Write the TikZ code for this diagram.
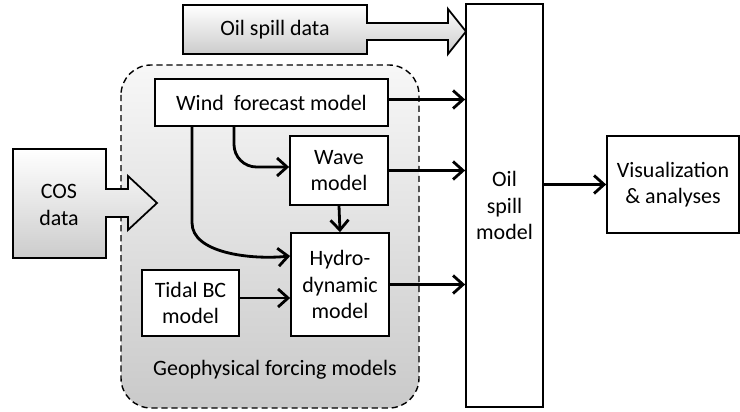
\documentclass[tikz,border=0pt]{standalone}
\usepackage{fontspec}
\setmainfont{Carlito}
\usetikzlibrary{arrows.meta}
\tikzset{
  modelbox/.style={draw, line width=1pt, fill=white, align=center, inner sep=2pt},
  flow/.style={line width=1.6pt, -{Straight Barb[length=2mm,width=3.6mm,line width=1.6pt]}},
  bigarrow/.style={draw, line width=1pt, top color=white, bottom color=gray!40}
}
\begin{document}
\begin{tikzpicture}[x=0.02cm, y=-0.02cm, font=\fontsize{12.5}{15}\selectfont]
  \useasboundingbox (0,0) rectangle (740,412);
  \shade[top color=gray!6, bottom color=gray!42, rounded corners=0.6cm] (121,65) rectangle (419,408);
  \draw[dashed, dash pattern=on 3.5pt off 2.2pt, line width=0.8pt, rounded corners=0.6cm] (121,65) rectangle (419,408);
  \node (forcing) at (275,370) {Geophysical forcing models};

  \shadedraw[bigarrow] (183,5) -- (367,5) -- (367,23) -- (448,23) -- (448,9) -- (466,31.5)
    -- (448,54) -- (448,40) -- (367,40) -- (367,54) -- (183,54) -- cycle;
  \node (oildata) at (275,30) {Oil spill data};
  \shadedraw[bigarrow] (13,149) -- (106,149) -- (106,189) -- (128,189) -- (128,176) -- (157,203)
    -- (128,230) -- (128,217) -- (106,217) -- (106,258) -- (13,258) -- cycle;
  \node[align=center] (cosdata) at (59,205) {COS\\data};

  \node[modelbox, minimum width=1.54cm, minimum height=8.06cm] (spill) at (504.5,205.5) {Oil\\spill\\model};
  \node[modelbox, minimum width=2.64cm, minimum height=1.94cm] (vis) at (673,184.5) {Visualization\\\& analyses};
  \node[modelbox, minimum width=4.66cm, minimum height=0.94cm] (wind) at (271.5,102.5) {Wind\ \ forecast model};
  \node[modelbox, minimum width=1.96cm, minimum height=1.38cm] (wave) at (339,170.5) {Wave\\model};
  \node[modelbox, minimum width=1.96cm, minimum height=2.06cm] (hydro) at (340,284.5) {Hydro-\\dynamic\\model};
  \node[modelbox, minimum width=1.94cm, minimum height=1.32cm] (tidal) at (190.5,303) {Tidal BC\\model};

  \draw[flow] ([yshift=0.06cm]wind.east) -- ([yshift=0.06cm]wind.east -| spill.west);
  \draw[flow] (wave.east) -- (wave.east -| spill.west);
  \draw[flow] (hydro.east) -- (hydro.east -| spill.west);
  \draw[flow] (vis.west -| spill.east) -- (vis.west);
  \draw[flow] (wave.south) -- (hydro.north);
  \draw[flow] ([yshift=0.1cm]tidal.east) -- ([yshift=0.1cm]tidal.east -| hydro.west);
  \draw[flow, rounded corners=0.45cm] ([xshift=-0.75cm]wind.south) |- ([yshift=0.07cm]wave.west);
  \draw[flow] ([xshift=-1.59cm]wind.south) -- ++(0,96) .. controls +(0,30) and +(-40,4) .. ([yshift=0.57cm]hydro.west);
\end{tikzpicture}
\end{document}
